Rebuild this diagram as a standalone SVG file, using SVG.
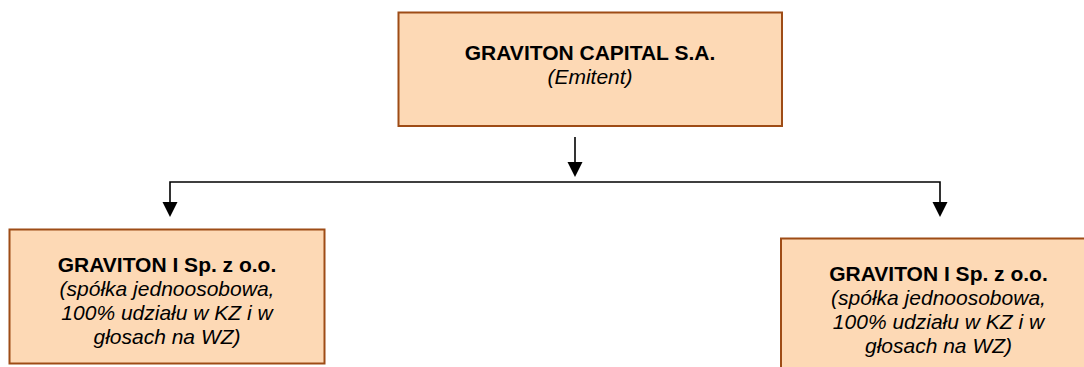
<svg xmlns="http://www.w3.org/2000/svg" width="1084" height="367" viewBox="0 0 1084 367">
<defs>
<style>
.box{fill:#fdd9b5;stroke:#9e4c16;stroke-width:2}
.t{font-family:"Liberation Sans",Arial,sans-serif;font-size:21px;fill:#000;text-anchor:middle}
.b{font-weight:bold}
.i{font-style:italic}
.c{fill:none;stroke:#000;stroke-width:1.6}
</style>
<marker id="ah" markerUnits="userSpaceOnUse" markerWidth="16" markerHeight="16" viewBox="0 0 16 16" refX="8" refY="16" orient="auto-start-reverse">
<path d="M0,0 L16,0 L8,16 Z" fill="#000" transform="rotate(-90 8 8)"/>
</marker>
</defs>
<rect width="1084" height="367" fill="#fff"/>
<g id="node-top">
<rect class="box" x="398.5" y="12.5" width="383.5" height="113.5"/>
<text class="t b" x="590" y="60">GRAVITON CAPITAL S.A.</text>
<text class="t i" x="590" y="84">(Emitent)</text>
</g>
<g id="node-left">
<rect class="box" x="9.5" y="229.5" width="315" height="134"/>
<text class="t b" x="167" y="272">GRAVITON I Sp. z o.o.</text>
<text class="t i" x="167" y="296">(spółka jednoosobowa,</text>
<text class="t i" x="167" y="320">100% udziału w KZ i w</text>
<text class="t i" x="167" y="344">głosach na WZ)</text>
</g>
<g id="node-right">
<rect class="box" x="781" y="238.5" width="315" height="140"/>
<text class="t b" x="938.5" y="281">GRAVITON I Sp. z o.o.</text>
<text class="t i" x="938.5" y="305">(spółka jednoosobowa,</text>
<text class="t i" x="938.5" y="329">100% udziału w KZ i w</text>
<text class="t i" x="938.5" y="353">głosach na WZ)</text>
</g>
<g id="connectors">
<line class="c" x1="575" y1="137" x2="575" y2="162"/>
<polygon points="567.5,162 582.5,162 575,177" fill="#000"/>
<polyline class="c" points="170,202 170,182 940,182 940,202"/>
<polygon points="162.5,202 177.5,202 170,217" fill="#000"/>
<polygon points="932.5,202 947.5,202 940,217" fill="#000"/>
</g>
</svg>
